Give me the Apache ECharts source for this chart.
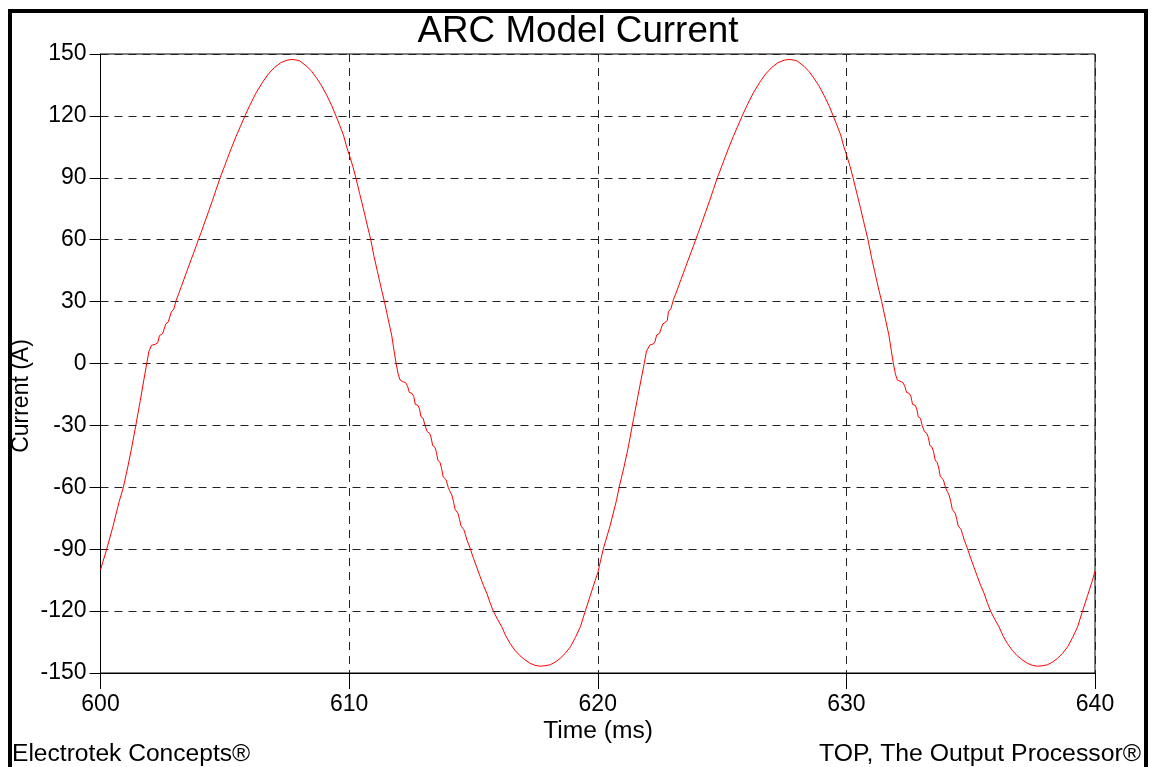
<!DOCTYPE html>
<html>
<head>
<meta charset="utf-8">
<title>ARC Model Current</title>
<script src="https://cdn.jsdelivr.net/npm/echarts@6/dist/echarts.min.js"></script>
<style>
  html, body { margin: 0; padding: 0; background: #ffffff; }
  #chart { width: 1151px; height: 767px; }
</style>
</head>
<body>
<div id="chart"></div>
<script>
// Arc furnace model current, two cycles of 50 Hz (time in ms, current in A)
const xTicks = [600, 610, 620, 630, 640];
const yTicks = [-150, -120, -90, -60, -30, 0, 30, 60, 90, 120, 150];

// First cycle, 600 .. 620 ms
const timeA = [
  600.0, 600.25, 600.5, 600.75, 600.92, 601.1, 601.25, 601.42, 601.6, 601.75,
  601.86, 601.95, 602.05, 602.2, 602.3, 602.37, 602.5, 602.58, 602.63, 602.72,
  602.8, 602.85, 602.95, 603.04, 603.15, 603.25, 603.35, 603.45, 603.55, 603.65,
  603.75, 603.85, 603.93, 604.05, 604.2, 604.35, 604.5, 604.65, 604.81, 605.0,
  605.08, 605.25, 605.45, 605.63, 605.81, 606.0, 606.25, 606.5, 606.75, 607.0,
  607.25, 607.5, 607.7, 607.9, 608.02, 608.3, 608.5, 608.7, 608.9, 609.1,
  609.3, 609.47, 609.62, 609.77, 609.9, 610.01, 610.15, 610.27, 610.42, 610.57,
  610.72, 610.87, 611.0, 611.14, 611.28, 611.42, 611.57, 611.71, 611.81, 611.89,
  611.97, 612.05, 612.15, 612.27, 612.35, 612.42, 612.53, 612.6, 612.66, 612.77,
  612.83, 612.89, 612.98, 613.05, 613.14, 613.24, 613.3, 613.36, 613.45, 613.51,
  613.57, 613.66, 613.72, 613.78, 613.9, 613.99, 614.06, 614.13, 614.2, 614.26,
  614.38, 614.44, 614.5, 614.61, 614.68, 614.74, 614.82, 614.89, 615.0, 615.14,
  615.27, 615.4, 615.54, 615.67, 615.8, 615.97, 616.14, 616.3, 616.47, 616.67,
  616.87, 617.07, 617.28, 617.48, 617.68, 617.88, 618.09, 618.29, 618.49, 618.7,
  618.9, 619.1, 619.3, 619.49, 619.7, 619.9
];
const currentA = [
  -100, -90, -79, -67, -60, -50, -41, -30, -18, -7.5,
  0, 6, 8.8, 9.3, 10, 13.5, 14.5, 15, 19.3, 20,
  20.6, 25, 26.4, 30.5, 34, 37.3, 40.6, 43.9, 47.2, 50.5,
  53.7, 57, 59.8, 63.6, 68.7, 73.8, 78.9, 84.3, 90, 96,
  98.6, 104, 110, 115, 120, 125, 131, 136, 140.3, 143.5,
  145.8, 147, 147.4, 147, 146.6, 144, 141.5, 138.2, 134.5, 130,
  125, 120, 115.5, 110.8, 105, 101, 95.5, 90, 82.5, 75.2,
  67.5, 60, 52, 44.5, 37, 30, 21.5, 13.8, 6, 0,
  -5, -8, -8.8, -9.2, -11, -14, -14.5, -16, -19.8, -20.3,
  -22, -25.8, -26.6, -30, -33, -33.9, -36, -39.8, -40.6, -43,
  -46.8, -48.1, -51, -54.9, -56.3, -60.2, -62, -63.7, -67, -70.7,
  -72.6, -75.5, -78.8, -80.4, -83, -85.6, -88, -90.4, -94.4, -99,
  -103.3, -107.5, -111.4, -116, -120, -124, -127.6, -132, -135.6, -139,
  -141.6, -143.6, -145.3, -146.3, -146.7, -146.5, -146, -144.7, -142.9, -140.4,
  -137.3, -132.8, -127.6, -120.3, -112.5, -105
];

// Second cycle, 620 .. 640 ms
const timeB = [
  620.0, 620.22, 620.5, 620.75, 620.86, 621.05, 621.22, 621.39, 621.58, 621.74,
  621.87, 621.96, 622.1, 622.24, 622.3, 622.37, 622.48, 622.56, 622.61, 622.73,
  622.8, 622.84, 622.95, 623.04, 623.15, 623.25, 623.35, 623.45, 623.55, 623.65,
  623.75, 623.85, 623.93, 624.05, 624.2, 624.35, 624.5, 624.65, 624.81, 625.0,
  625.08, 625.25, 625.45, 625.63, 625.81, 626.0, 626.25, 626.5, 626.75, 627.0,
  627.25, 627.5, 627.7, 627.9, 628.02, 628.3, 628.5, 628.7, 628.9, 629.1,
  629.3, 629.47, 629.62, 629.77, 629.9, 630.01, 630.15, 630.27, 630.42, 630.57,
  630.72, 630.87, 631.0, 631.14, 631.28, 631.42, 631.57, 631.71, 631.81, 631.89,
  631.97, 632.05, 632.12, 632.27, 632.35, 632.42, 632.53, 632.6, 632.66, 632.77,
  632.83, 632.89, 632.98, 633.05, 633.14, 633.24, 633.3, 633.36, 633.45, 633.51,
  633.57, 633.66, 633.72, 633.78, 633.9, 633.99, 634.06, 634.13, 634.2, 634.26,
  634.38, 634.44, 634.5, 634.61, 634.68, 634.74, 634.82, 634.89, 635.0, 635.14,
  635.27, 635.4, 635.54, 635.67, 635.8, 635.97, 636.14, 636.3, 636.47, 636.67,
  636.87, 637.07, 637.28, 637.48, 637.68, 637.88, 638.09, 638.29, 638.49, 638.7,
  638.9, 639.1, 639.3, 639.49, 639.7, 639.9, 640.0
];
const currentB = [
  -101.5, -90, -78.5, -66.5, -60, -50.5, -41, -30, -18, -8,
  0, 6, 9, 9.5, 10.5, 13.8, 14.6, 15.5, 19.1, 20,
  21, 25, 26.8, 30.8, 34.2, 37.5, 40.8, 44, 47.3, 50.6,
  53.8, 57, 59.8, 63.6, 68.7, 73.8, 78.9, 84.3, 90, 96,
  98.6, 104, 110, 115, 120, 125, 131, 136, 140.3, 143.5,
  145.8, 147, 147.4, 147, 146.6, 144, 141.5, 138.2, 134.5, 130,
  125, 120, 115.5, 110.8, 105, 101, 95.5, 90, 82.5, 75.2,
  67.5, 60, 52, 44.5, 37, 30, 21.5, 13.8, 6, 0,
  -5, -8, -8.8, -9.2, -11, -14, -14.5, -16, -19.8, -20.3,
  -22, -25.8, -26.6, -30, -33, -33.9, -36, -39.8, -40.6, -43,
  -46.8, -48.1, -51, -54.9, -56.3, -60.2, -62, -63.7, -67, -70.7,
  -72.6, -75.5, -78.8, -80.4, -83, -85.6, -88, -90.4, -94.4, -99,
  -103.3, -107.5, -111.4, -116, -120, -124, -127.6, -132, -135.6, -139,
  -141.6, -143.6, -145.3, -146.3, -146.7, -146.5, -146, -144.7, -142.9, -140.4,
  -137.3, -132.8, -127.6, -120.3, -112.5, -105, -100.5
];

const FONT = '"Liberation Sans", Arial, sans-serif';

const points = timeA.map((t, i) => [t, currentA[i]])
  .concat(timeB.map((t, i) => [t, currentB[i]]));

const chart = echarts.init(document.getElementById('chart'), null, { renderer: 'canvas' });

const dashed = { color: '#222', width: 1, type: [8, 6] };

chart.setOption({
  backgroundColor: '#ffffff',
  animation: false,
  grid: {
    left: 100.5, right: 56, top: 54, bottom: 94,
    show: true, borderColor: '#000', borderWidth: 1, backgroundColor: 'transparent'
  },
  xAxis: {
    type: 'value',
    min: xTicks[0], max: xTicks[xTicks.length - 1], interval: 10,
    axisLine: { show: true, onZero: false, lineStyle: { color: '#000', width: 1 } },
    axisTick: { show: true, length: 16, lineStyle: { color: '#000', width: 1 } },
    axisLabel: { color: '#000', fontFamily: FONT, fontSize: 23, margin: 20 },
    splitLine: { show: true, lineStyle: dashed }
  },
  yAxis: {
    type: 'value',
    min: yTicks[0], max: yTicks[yTicks.length - 1], interval: 30,
    axisLine: { show: true, onZero: false, lineStyle: { color: '#000', width: 1 } },
    axisTick: { show: true, length: 11, lineStyle: { color: '#000', width: 1 } },
    axisLabel: { color: '#000', fontFamily: FONT, fontSize: 23, margin: 14 },
    splitLine: { show: true, lineStyle: dashed }
  },
  series: [{
    type: 'line',
    data: points,
    showSymbol: false,
    symbol: 'none',
    smooth: false,
    lineStyle: { color: '#ff0000', width: 1 },
    z: 5
  }],
  graphic: [
    {
      type: 'rect', silent: true,
      shape: { x: 10, y: 11, width: 1136, height: 800 },
      style: { fill: null, stroke: '#000', lineWidth: 4 }
    },
    {
      type: 'text', x: 578, y: 32,
      style: { text: 'ARC Model Current', font: '36.8px ' + FONT, fill: '#000', align: 'center', verticalAlign: 'middle' }
    },
    {
      type: 'text', x: 598, y: 731,
      style: { text: 'Time (ms)', font: '24.6px ' + FONT, fill: '#000', align: 'center', verticalAlign: 'middle' }
    },
    {
      type: 'text', x: 22, y: 396, rotation: Math.PI / 2,
      style: { text: 'Current (A)', font: '23px ' + FONT, fill: '#000', align: 'center', verticalAlign: 'middle' }
    },
    {
      type: 'text', x: 12, y: 754,
      style: { text: 'Electrotek Concepts®', font: '24.6px ' + FONT, fill: '#000', align: 'left', verticalAlign: 'middle' }
    },
    {
      type: 'text', x: 1141, y: 754,
      style: { text: 'TOP, The Output Processor®', font: '24.8px ' + FONT, fill: '#000', align: 'right', verticalAlign: 'middle' }
    }
  ]
});
</script>
</body>
</html>
